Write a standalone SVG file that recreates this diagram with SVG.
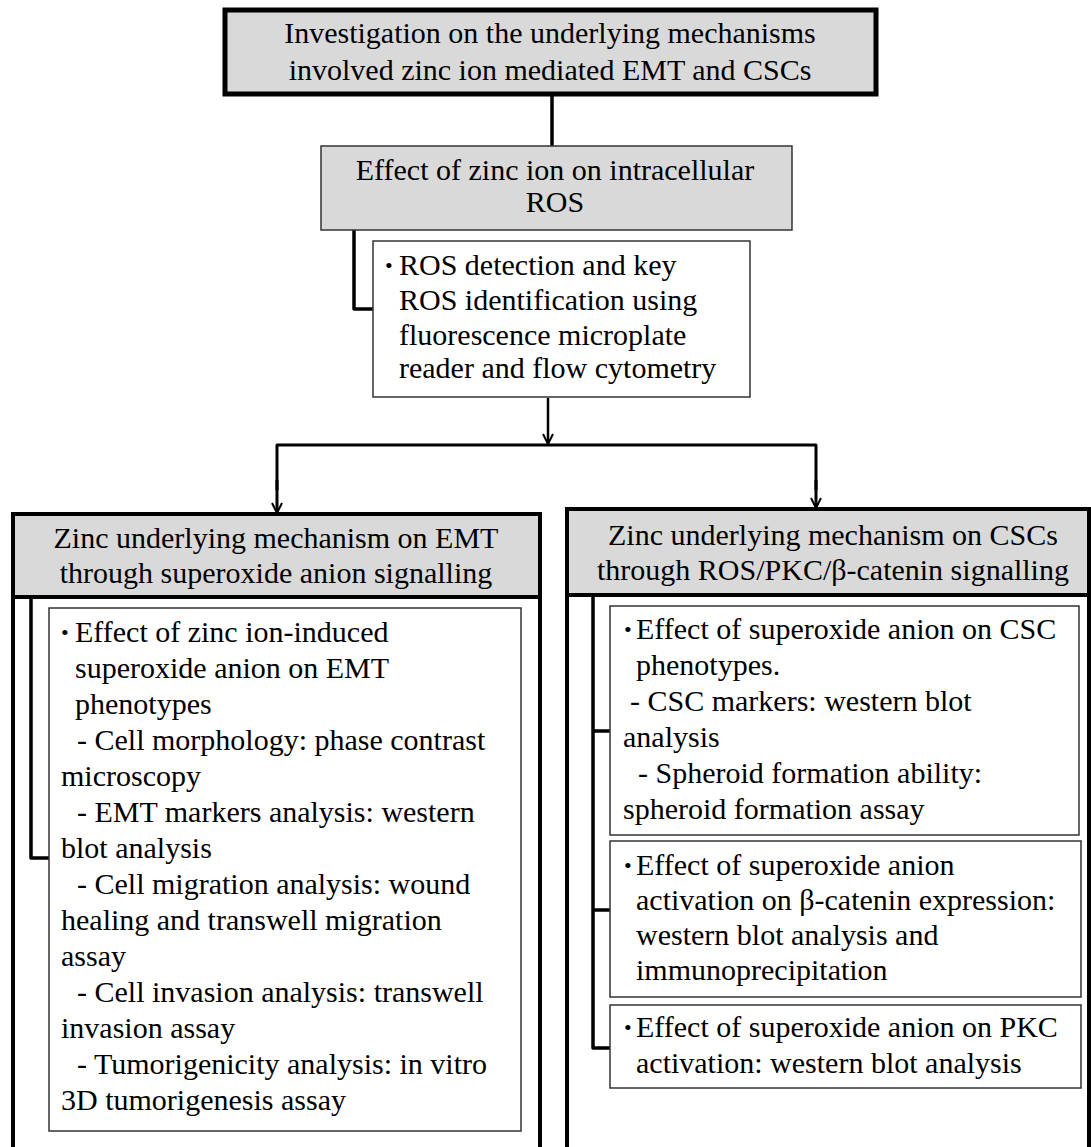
<svg xmlns="http://www.w3.org/2000/svg" width="1091" height="1147" viewBox="0 0 1091 1147">
<defs>
<style>
text{font-family:"Liberation Serif","Times New Roman",serif;font-size:30px;fill:#000}
.c{text-anchor:middle}
.b{font-size:22px}
.thick{fill:none;stroke:#000;stroke-width:4}
.hdr{fill:#d9d9d9}
.thin{fill:#fff;stroke:#333;stroke-width:1.5}
.thinGray{fill:#d9d9d9;stroke:#333;stroke-width:1.5}
.conn{fill:none;stroke:#000;stroke-width:3.5;stroke-linejoin:round}
.arr{fill:none;stroke:#000;stroke-width:2.5;stroke-linejoin:round;marker-end:url(#ah)}
</style>
<marker id="ah" viewBox="0 0 12 12" refX="11" refY="6" markerWidth="12" markerHeight="12" markerUnits="userSpaceOnUse" orient="auto">
<path d="M1,1 L11,6 L1,11" fill="none" stroke="#000" stroke-width="2"/>
</marker>
</defs>
<rect width="1091" height="1147" fill="#fff"/>

<g id="connectors">
<line x1="552" y1="96" x2="552" y2="146" class="conn"/>
<polyline points="354,228 354,309 373,309" class="conn"/>
<line x1="548" y1="398" x2="548" y2="444" class="arr"/>
<polyline points="277,490 277,445 816,445 816,490" class="conn" style="stroke-width:3"/>
<line x1="277" y1="480" x2="277" y2="513" class="arr" style="stroke-width:3"/>
<line x1="816" y1="480" x2="816" y2="508" class="arr" style="stroke-width:3"/>
<polyline points="31,597 31,858 49,858" class="conn"/>
<polyline points="593,595 593,1048 610,1048" class="conn"/>
<line x1="593" y1="731" x2="610" y2="731" class="conn"/>
<line x1="593" y1="910" x2="610" y2="910" class="conn"/>
</g>

<g id="top">
<rect x="225" y="10" width="651" height="84" class="hdr"/>
<rect x="225" y="10" width="651" height="84" class="thick" style="stroke-width:5"/>
<text x="550" y="43" class="c">Investigation on the underlying mechanisms</text>
<text x="550" y="80" class="c">involved zinc ion mediated EMT and CSCs</text>
</g>

<g id="ros">
<rect x="321" y="146" width="471" height="84" class="thinGray"/>
<text x="555" y="180" class="c">Effect of zinc ion on intracellular</text>
<text x="555" y="212" class="c">ROS</text>
</g>

<g id="ros-detail">
<rect x="373" y="241" width="377" height="156" class="thin"/>
<text x="385" y="273" class="b">•</text>
<text x="399" y="275">ROS detection and key</text>
<text x="399" y="310">ROS identification using</text>
<text x="399" y="345">fluorescence microplate</text>
<text x="399" y="378">reader and flow cytometry</text>
</g>

<g id="emt">
<rect x="13" y="514" width="527" height="83" class="hdr"/>
<rect x="13" y="514" width="527" height="700" class="thick"/>
<line x1="13" y1="597" x2="540" y2="597" class="thick"/>
<text x="276" y="548" class="c">Zinc underlying mechanism on EMT</text>
<text x="276" y="583" class="c">through superoxide anion signalling</text>
</g>

<g id="emt-detail">
<rect x="49" y="608" width="472" height="523" class="thin"/>
<text x="61" y="640" class="b">•</text>
<text x="75" y="642">Effect of zinc ion-induced</text>
<text x="75" y="678">superoxide anion on EMT</text>
<text x="75" y="714">phenotypes</text>
<text x="77" y="750">- Cell morphology: phase contrast</text>
<text x="61" y="786">microscopy</text>
<text x="77" y="822">- EMT markers analysis: western</text>
<text x="61" y="858">blot analysis</text>
<text x="77" y="894">- Cell migration analysis: wound</text>
<text x="61" y="930">healing and transwell migration</text>
<text x="61" y="966">assay</text>
<text x="77" y="1002">- Cell invasion analysis: transwell</text>
<text x="61" y="1038">invasion assay</text>
<text x="77" y="1074">- Tumorigenicity analysis: in vitro</text>
<text x="61" y="1110">3D tumorigenesis assay</text>
</g>

<g id="csc">
<rect x="567" y="509" width="522" height="86" class="hdr"/>
<rect x="567" y="509" width="522" height="700" class="thick"/>
<line x1="567" y1="595" x2="1091" y2="595" class="thick"/>
<text x="833" y="545" class="c">Zinc underlying mechanism on CSCs</text>
<text x="833" y="580" class="c">through ROS/PKC/β-catenin signalling</text>
</g>

<g id="csc-detail-1">
<rect x="610" y="606" width="469" height="229" class="thin"/>
<text x="624" y="637" class="b">•</text>
<text x="636" y="639">Effect of superoxide anion on CSC</text>
<text x="636" y="675">phenotypes.</text>
<text x="630" y="711">- CSC markers: western blot</text>
<text x="623" y="747">analysis</text>
<text x="638" y="783">- Spheroid formation ability:</text>
<text x="623" y="819">spheroid formation assay</text>
</g>

<g id="csc-detail-2">
<rect x="610" y="841" width="471" height="156" class="thin"/>
<text x="624" y="873" class="b">•</text>
<text x="636" y="875">Effect of superoxide anion</text>
<text x="636" y="910">activation on β-catenin expression:</text>
<text x="636" y="945">western blot analysis and</text>
<text x="636" y="980">immunoprecipitation</text>
</g>

<g id="csc-detail-3">
<rect x="610" y="1005" width="471" height="83" class="thin"/>
<text x="624" y="1035" class="b">•</text>
<text x="636" y="1037">Effect of superoxide anion on PKC</text>
<text x="636" y="1073">activation: western blot analysis</text>
</g>
</svg>
